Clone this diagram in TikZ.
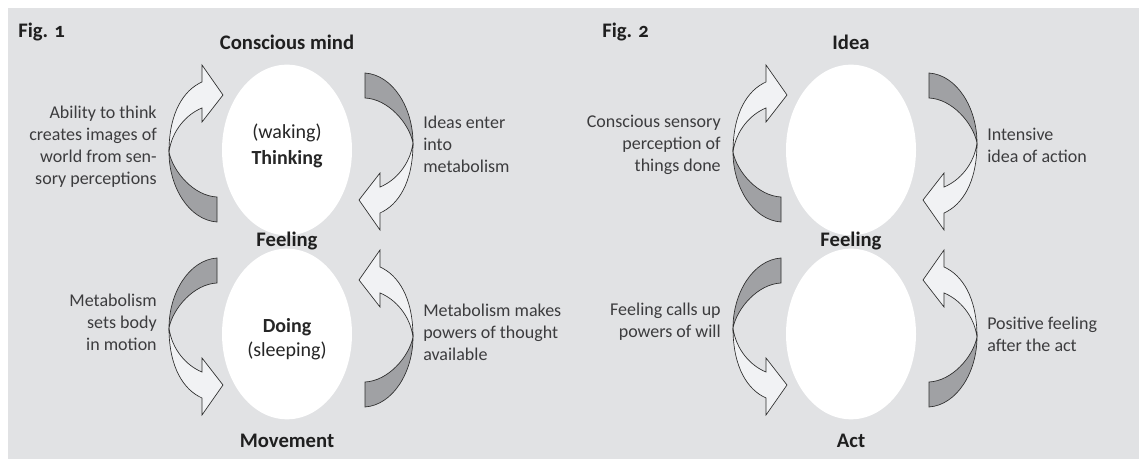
\documentclass[tikz,border=0pt]{standalone}
\usepackage{fontspec}
\setmainfont{Carlito}[Numbers=OldStyle]
\usetikzlibrary{shapes.geometric}

\definecolor{bggray}{RGB}{225,226,228}
\definecolor{darkfill}{RGB}{160,161,164}
\definecolor{lightfill}{RGB}{241,242,244}
\definecolor{linegray}{RGB}{45,45,45}
\definecolor{txtgray}{RGB}{60,60,62}

\tikzset{
  pics/twist/.style={code={
    \filldraw [draw=linegray, fill=darkfill, line width=0.5pt] (0,0) .. controls (0,-35) and (20,-68) .. (48,-70) -- (48,-45) .. controls (25,-44) and (4,-20) .. (0,0) -- cycle ;
    \filldraw [draw=linegray, fill=lightfill, line width=0.5pt] (33,70) .. controls (15,62) and (0,40) .. (0,0) .. controls (3,22) and (18,38) .. (33,44) -- (33,30) -- (54,57) -- (33,87) -- cycle ;
  }}
}

\begin{document}
\begin{tikzpicture}[x=0.75pt,y=0.75pt,yscale=-1,
  side/.style={font=\fontsize{13.5}{16.5}\selectfont, text=txtgray, inner sep=0pt},
  head/.style={font=\fontsize{15.5}{18}\selectfont\bfseries, text=black!88, inner sep=0pt, anchor=base},
  inner/.style={font=\fontsize{15}{18}\selectfont, text=black!85, inner sep=0pt, anchor=base},
  blob/.style={ellipse, fill=white, inner sep=0pt, minimum width=97.5pt, minimum height=128pt}]

\useasboundingbox (0,0) rectangle (1139,459);
\fill [bggray] (8,8) rectangle (1139,459);

% Fig. 1
\node [blob] (thinkblob) at (287,150) {};
\node [blob] (doblob) at (287,334) {};

\pic at (169,152) {twist};
\pic [yscale=-1] at (169,328) {twist};
\pic [xscale=-1,yscale=-1] at (413,143) {twist};
\pic [xscale=-1] at (413,337) {twist};

\node [head, anchor=base west] (fig1) at (18,38) {Fig. 1};
\node [head] (mind) at (287,50) {Conscious mind};
\node [head] (feel1) at (287,247) {Feeling};
\node [head] (move) at (287,448) {Movement};
\node [inner] (waking) at (287,139) {(waking)};
\node [inner, font=\fontsize{15}{18}\selectfont\bfseries] (think) at (287,165) {Thinking};
\node [inner, font=\fontsize{15}{18}\selectfont\bfseries] (doing) at (287,333) {Doing};
\node [inner] (sleeping) at (287,357) {(sleeping)};

% multi-line labels: base is the last line
\node [side, align=right, anchor=base east] (ability) at (157,185) {Ability to think\\creates images of\\world from sen-\\sory perceptions};
\node [side, align=left, anchor=base west] (ideas) at (423,173) {Ideas enter\\into\\metabolism};
\node [side, align=right, anchor=base east] (setsbody) at (157,351) {Metabolism\\sets body\\in motion};
\node [side, align=left, anchor=base west] (powers) at (423,361) {Metabolism makes\\powers of thought\\available};

% Fig. 2
\node [blob] (ideablob) at (851,150) {};
\node [blob] (actblob) at (851,334) {};

\pic at (733,152) {twist};
\pic [yscale=-1] at (733,328) {twist};
\pic [xscale=-1,yscale=-1] at (977,143) {twist};
\pic [xscale=-1] at (977,337) {twist};

\node [head, anchor=base west] (fig2) at (602,38) {Fig. 2};
\node [head] (idea) at (851,50) {Idea};
\node [head] (feel2) at (851,247) {Feeling};
\node [head] (act) at (851,448) {Act};

\node [side, align=right, anchor=base east] (sensory) at (721,172) {Conscious sensory\\perception of\\things done};
\node [side, align=left, anchor=base west] (intens) at (987,163) {Intensive\\idea of action};
\node [side, align=right, anchor=base east] (calls) at (721,338) {Feeling calls up\\powers of will};
\node [side, align=left, anchor=base west] (positive) at (987,352) {Positive feeling\\after the act};

\end{tikzpicture}
\end{document}
